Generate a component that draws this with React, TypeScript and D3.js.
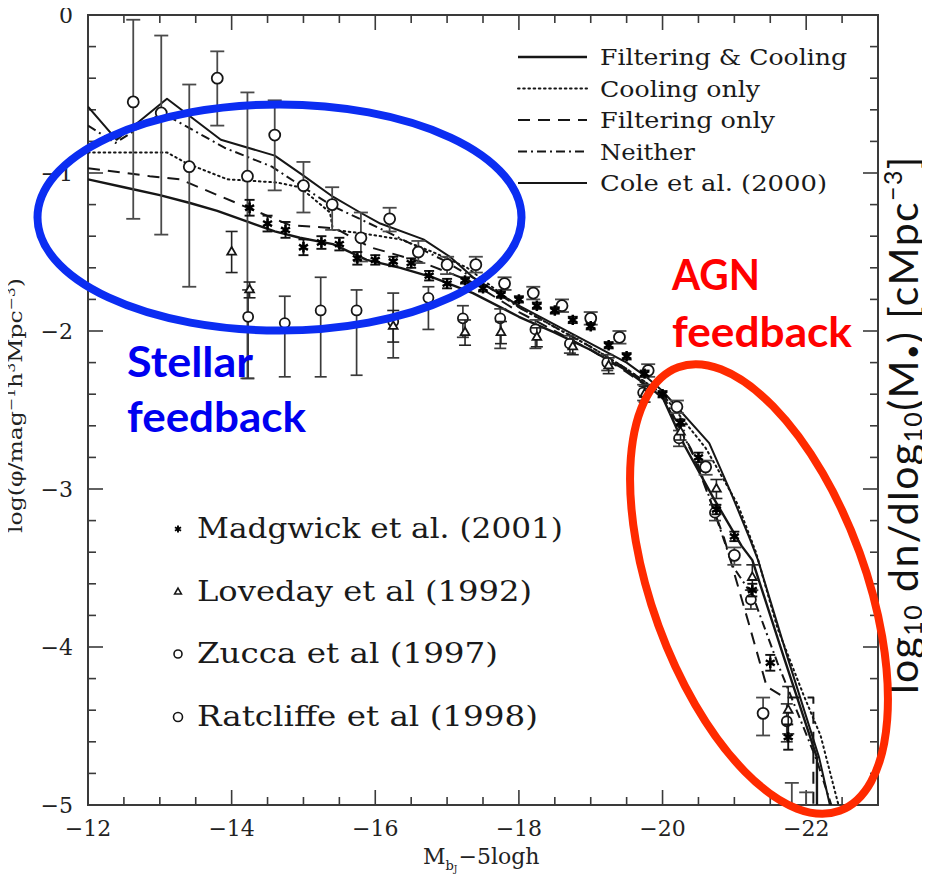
import React from "react";
import * as d3 from "d3";

const W = 930;
const H = 875;

// Model luminosity functions: [M_bJ - 5 log h, log phi]
const filteringCooling: [number, number][] = [
  [-12, -1.04], [-12.5, -1.09], [-13, -1.14], [-13.42, -1.19], [-13.8, -1.24], [-14.23, -1.31],
  [-14.6, -1.37], [-14.95, -1.41], [-15.41, -1.45], [-15.88, -1.55], [-16.35, -1.6], [-16.8, -1.66],
  [-17.36, -1.76], [-18.0, -1.91], [-18.5, -2.01], [-19.0, -2.12], [-19.5, -2.25], [-20.0, -2.42],
  [-20.3, -2.72], [-20.7, -3.05], [-21.1, -3.36], [-21.25, -3.45], [-21.7, -4.08], [-22.15, -4.7],
  [-22.15, -5.0],
];
const coolingOnly: [number, number][] = [
  [-12, -0.87], [-12.6, -0.87], [-13.1, -0.87], [-13.38, -0.94], [-13.94, -1.04], [-14.63, -1.06],
  [-14.95, -1.09], [-15.37, -1.25], [-15.41, -1.36], [-15.79, -1.38], [-16.35, -1.42], [-16.8, -1.5],
  [-17.28, -1.6], [-18.0, -1.85], [-19.0, -2.1], [-19.5, -2.24], [-20.0, -2.4], [-20.6, -2.74],
  [-21.05, -3.1], [-21.3, -3.4], [-21.6, -3.88], [-21.96, -4.3], [-22.2, -4.56], [-22.45, -5.0],
];
const filteringOnly: [number, number][] = [
  [-12, -0.97], [-12.86, -1.02], [-13.28, -1.04], [-14.12, -1.2], [-14.81, -1.33], [-15.44, -1.35],
  [-15.93, -1.47], [-16.62, -1.56], [-17.3, -1.68], [-18.0, -1.88], [-19.0, -2.12], [-19.5, -2.26],
  [-20.0, -2.42], [-20.4, -2.75], [-20.85, -3.3], [-21.2, -3.85], [-21.45, -4.25], [-21.7, -4.32],
  [-22.1, -4.32], [-22.1, -5.0],
];
const neither: [number, number][] = [
  [-12, -0.7], [-12.38, -0.81], [-13.03, -0.62], [-13.35, -0.7], [-13.9, -0.84], [-14.56, -0.96],
  [-15.2, -1.15], [-15.41, -1.21], [-16.2, -1.38], [-16.94, -1.55], [-17.5, -1.7], [-18.0, -1.85],
  [-19.0, -2.1], [-19.5, -2.24], [-20.0, -2.4], [-20.5, -2.85], [-20.98, -3.49], [-21.26, -3.68],
  [-21.6, -4.1], [-22.15, -4.72], [-22.35, -5.0],
];
const cole2000: [number, number][] = [
  [-12, -0.58], [-12.4, -0.79], [-13.1, -0.53], [-13.85, -0.79], [-14.6, -0.89], [-14.98, -1.01],
  [-15.41, -1.15], [-15.79, -1.25], [-16.07, -1.32], [-16.67, -1.42], [-17.04, -1.53], [-17.36, -1.66],
  [-18.0, -1.84], [-18.5, -1.96], [-19.0, -2.08], [-19.5, -2.2], [-19.8, -2.3], [-20.0, -2.38],
  [-20.65, -2.71], [-20.94, -3.01], [-21.22, -3.32], [-21.33, -3.45], [-21.75, -4.08], [-22.18, -4.7],
  [-22.33, -5.0],
];

// Observed luminosity functions
// [mag, log phi, symmetric error]
const madgwick: number[][] = [
  [-14.25, -1.22, 0.05], [-14.5, -1.32, 0.05], [-14.75, -1.36, 0.05], [-15.0, -1.47, 0.05],
  [-15.25, -1.44, 0.04], [-15.5, -1.45, 0.04], [-15.75, -1.54, 0.04], [-16.0, -1.55, 0.03],
  [-16.25, -1.56, 0.03], [-16.5, -1.57, 0.03], [-16.75, -1.65, 0.03], [-17.0, -1.7, 0.03],
  [-17.25, -1.68, 0.02], [-17.5, -1.73, 0.02], [-17.75, -1.77, 0.02], [-18.0, -1.8, 0.02],
  [-18.25, -1.84, 0.02], [-18.5, -1.87, 0.02], [-18.75, -1.93, 0.02], [-19.0, -1.97, 0.02],
  [-19.25, -2.09, 0.02], [-19.5, -2.16, 0.02], [-19.75, -2.27, 0.02], [-20.0, -2.4, 0.02],
  [-20.25, -2.58, 0.02], [-20.5, -2.8, 0.03], [-20.75, -3.13, 0.03], [-21.0, -3.3, 0.03],
  [-21.25, -3.64, 0.04], [-21.5, -4.1, 0.05], [-21.75, -4.57, 0.08],
];
const loveday: number[][] = [
  [-14.0, -1.5, 0.13], [-14.25, -1.74, 0.05], [-16.25, -1.97, 0.1], [-17.25, -2.01, 0.08],
  [-17.75, -2.01, 0.07], [-18.25, -2.04, 0.06], [-18.75, -2.1, 0.05], [-19.25, -2.22, 0.05],
  [-19.75, -2.4, 0.05], [-20.25, -2.64, 0.05], [-20.75, -3.0, 0.06], [-21.25, -3.56, 0.08],
  [-21.75, -4.4, 0.15],
];
// [mag, log phi, upper end, lower end]
const zucca: number[][] = [
  [-14.23, -1.91, -1.74, -2.3], [-14.74, -1.95, -1.78, -2.29], [-15.24, -1.87, -1.66, -2.29],
  [-15.74, -1.87, -1.74, -2.28], [-16.25, -1.94, -1.76, -2.17], [-16.74, -1.79, -1.72, -1.99],
  [-17.22, -1.92, -1.84, -2.04], [-17.74, -1.92, -1.86, -2.11], [-18.23, -1.99, -1.93, -2.11],
  [-18.71, -2.08, -2.03, -2.14], [-19.23, -2.2, -2.15, -2.25], [-19.73, -2.39, -2.34, -2.44],
  [-20.23, -2.68, -2.63, -2.73], [-20.73, -3.15, -3.1, -3.2], [-21.23, -3.7, -3.64, -3.76],
  [-21.73, -4.47, -4.36, -4.6],
];
const ratcliffe: number[][] = [
  [-12.63, -0.55, -0.03, -1.29], [-13.02, -0.62, -0.13, -1.39], [-13.41, -0.96, -0.44, -1.72],
  [-13.8, -0.4, -0.23, -0.7], [-14.22, -1.02, -0.49, -2.3], [-14.6, -0.76, -0.54, -1.11],
  [-15.0, -1.08, -0.93, -1.25], [-15.4, -1.2, -1.09, -1.36], [-15.8, -1.41, -1.25, -1.56],
  [-16.2, -1.29, -1.22, -1.37], [-16.6, -1.5, -1.43, -1.57], [-17.0, -1.58, -1.53, -1.64],
  [-17.4, -1.58, -1.53, -1.63], [-17.8, -1.7, -1.66, -1.74], [-18.2, -1.76, -1.72, -1.8],
  [-18.6, -1.84, -1.8, -1.88], [-19.0, -1.92, -1.88, -1.96], [-19.4, -2.04, -2.0, -2.08],
  [-19.8, -2.25, -2.21, -2.29], [-20.2, -2.48, -2.44, -2.52], [-20.6, -2.86, -2.82, -2.91],
  [-21.0, -3.42, -3.37, -3.48], [-21.4, -4.42, -4.32, -4.56], [-21.8, -5.4, -4.86, -6.0],
  [-22.0, -5.6, -4.92, -6.0],
];

const modelLabels = ["Filtering & Cooling", "Cooling only", "Filtering only", "Neither", "Cole et al. (2000)"];
const dataLabels = ["Madgwick et al. (2001)", "Loveday et al (1992)", "Zucca et al (1997)", "Ratcliffe et al (1998)"];
const xTicks = [-12, -14, -16, -18, -20, -22];
const yTicks = [0, -1, -2, -3, -4, -5];

const SERIF = "'DejaVu Serif', 'Liberation Serif', serif";
const SANS = "Lato, 'Open Sans', 'Noto Sans', sans-serif";
const INK = "#161616";

const x = d3.scaleLinear().domain([-12, -23]).range([88, 878]);
const y = d3.scaleLinear().domain([0, -5]).range([15, 805]);
const line = d3.line<[number, number]>().x((d) => x(d[0])).y((d) => y(d[1]));

const DOT = "1.6 3.6";
const modelStyles = [
  { data: filteringCooling, dash: "none", width: 2.4 },
  { data: coolingOnly, dash: DOT, width: 2 },
  { data: filteringOnly, dash: "12 8", width: 2 },
  { data: neither, dash: "9 4 2 4", width: 2 },
  { data: cole2000, dash: "none", width: 2 },
];

const asterisk = d3.symbol(d3.symbolAsterisk, 75)()!;
const asteriskSmall = d3.symbol(d3.symbolAsterisk, 34)()!;
const triangle = d3.symbol(d3.symbolTriangle2, 55)()!;
const triangleSmall = d3.symbol(d3.symbolTriangle2, 32)()!;

const fmt = (v: number) => (v < 0 ? "\u2212" + Math.abs(v) : String(v));

function ErrorBar({ px, top, bottom, cap, color, w }: { px: number; top: number; bottom: number; cap: number; color: string; w: number }) {
  return (
    <g stroke={color} strokeWidth={w} fill="none">
      <line x1={px} x2={px} y1={top} y2={bottom} />
      <line x1={px - cap} x2={px + cap} y1={top} y2={top} />
      <line x1={px - cap} x2={px + cap} y1={bottom} y2={bottom} />
    </g>
  );
}

export default function App() {
  const [x0, x1] = x.range();
  const [y0, y1] = y.range();
  const xMinor = d3.range(-12, -23.01, -0.5);
  const yMinor = d3.range(0, -5.01, -0.2);
  const major = 15;
  const minor = 8;

  return (
    <svg width={W} height={H} viewBox={`0 0 ${W} ${H}`} style={{ display: "block", background: "#fff", marginLeft: -8, marginTop: -8 }}>
      <defs>
        <clipPath id="plot">
          <rect x={x0} y={y0} width={x1 - x0} height={y1 - y0} />
        </clipPath>
      </defs>
      <rect width={W} height={H} fill="#fff" />

      {/* frame and ticks */}
      <rect x={x0} y={y0} width={x1 - x0} height={y1 - y0} fill="none" stroke="#3a3a3a" strokeWidth={2} />
      <g stroke="#3a3a3a" strokeWidth={1.6}>
        {xMinor.map((v, i) => {
          const isMajor = Math.abs(v % 2) < 1e-6;
          const l = isMajor ? major : minor;
          return (
            <g key={"xm" + i}>
              <line x1={x(v)} x2={x(v)} y1={y1} y2={y1 - l} />
              <line x1={x(v)} x2={x(v)} y1={y0} y2={y0 + l} />
            </g>
          );
        })}
        {yMinor.map((v, i) => {
          const isMajor = Math.abs(v - Math.round(v)) < 1e-6;
          const l = isMajor ? major : minor;
          return (
            <g key={"ym" + i}>
              <line x1={x0} x2={x0 + l} y1={y(v)} y2={y(v)} />
              <line x1={x1} x2={x1 - l} y1={y(v)} y2={y(v)} />
            </g>
          );
        })}
      </g>

      {/* tick labels */}
      <g fontFamily={SERIF} fontSize={22} fill="#222">
        {xTicks.map((v) => (
          <text key={"xl" + v} x={x(v)} y={y1 + 31} textAnchor="middle">{fmt(v)}</text>
        ))}
        {yTicks.map((v) => (
          <text key={"yl" + v} x={x0 - 15} y={y(v) + 8} textAnchor="end">{fmt(v)}</text>
        ))}
      </g>

      {/* axis titles */}
      <text x={423} y={864} fontFamily={SERIF} fontSize={22} fill="#222">
        M<tspan fontSize={13} dy={6}>b</tspan><tspan fontSize={9} dy={2}>J</tspan>
        <tspan dy={-8} fontSize={22} dx={1}>{"\u22125logh"}</tspan>
      </text>
      <text transform="translate(22,533) rotate(-90)" fontFamily={SERIF} fontSize={18} fill="#222"
        textLength={255} lengthAdjust="spacingAndGlyphs">
        {"log(\u03c6/mag"}<tspan fontSize={12} dy={-7}>{"\u22121"}</tspan>
        <tspan dy={7}>h</tspan><tspan fontSize={12} dy={-7}>3</tspan>
        <tspan dy={7}>Mpc</tspan><tspan fontSize={12} dy={-7}>{"\u22123"}</tspan>
        <tspan dy={7}>)</tspan>
      </text>
      <text transform="translate(918,694) rotate(-90)" fontFamily={SANS} fontSize={41} fill="#111" letterSpacing={1.4}>
        log<tspan fontSize={25} dy={4}>10</tspan>
        <tspan dy={-4}>{" dn/dlog"}</tspan><tspan fontSize={25} dy={4}>10</tspan>
        <tspan dy={-4}>(M</tspan><tspan fontSize={25} dy={3}>{"\u2022"}</tspan>
        <tspan dy={-3}>{")  [cMpc"}</tspan><tspan fontSize={25} dy={-16}>{"\u22123"}</tspan>
        <tspan dy={16}>]</tspan>
      </text>

      {/* model curves */}
      <g clipPath="url(#plot)" fill="none" stroke={INK} strokeLinejoin="round">
        {modelStyles.map((m, i) => (
          <path key={"m" + i} d={line(m.data)!} strokeWidth={m.width} strokeDasharray={m.dash}
            strokeLinecap={m.dash === DOT ? "round" : "butt"} />
        ))}
      </g>

      {/* observations */}
      <g clipPath="url(#plot)">
        {ratcliffe.map((d, i) => (
          <g key={"r" + i}>
            <ErrorBar px={x(d[0])} top={y(d[2])} bottom={y(d[3])} cap={7} color="#4a4a4a" w={1.8} />
            <circle cx={x(d[0])} cy={y(d[1])} r={5.5} fill="#fff" stroke={INK} strokeWidth={1.8} />
          </g>
        ))}
        {zucca.map((d, i) => (
          <g key={"z" + i}>
            <ErrorBar px={x(d[0])} top={y(d[2])} bottom={y(d[3])} cap={6} color="#3a3a3a" w={1.7} />
            <circle cx={x(d[0])} cy={y(d[1])} r={5} fill="#fff" stroke={INK} strokeWidth={1.8} />
          </g>
        ))}
        {loveday.map((d, i) => (
          <g key={"l" + i}>
            <ErrorBar px={x(d[0])} top={y(d[1] + d[2])} bottom={y(d[1] - d[2])} cap={6} color="#222" w={1.6} />
            <path d={triangle} transform={`translate(${x(d[0])},${y(d[1])})`} fill="#fff" stroke={INK} strokeWidth={1.8} />
          </g>
        ))}
        {madgwick.map((d, i) => (
          <g key={"g" + i}>
            <ErrorBar px={x(d[0])} top={y(d[1] + d[2])} bottom={y(d[1] - d[2])} cap={5} color="#111" w={1.9} />
            <path d={asterisk} transform={`translate(${x(d[0])},${y(d[1])})`} fill="none" stroke="#000" strokeWidth={2.5} />
          </g>
        ))}
      </g>

      {/* model legend */}
      <g>
        {modelLabels.map((lab, i) => {
          const ly = 57 + i * 31.5;
          const st = modelStyles[i];
          return (
            <g key={"ml" + i}>
              <line x1={518} x2={587} y1={ly} y2={ly} stroke={INK} strokeWidth={st.width}
                strokeDasharray={st.dash} strokeLinecap={st.dash === DOT ? "round" : "butt"} />
              <text x={600} y={ly + 8} fontFamily={SERIF} fontSize={22} fill="#1a1a1a"
                textLength={[247, 160, 175, 95, 227][i]} lengthAdjust="spacingAndGlyphs">{lab}</text>
            </g>
          );
        })}
      </g>

      {/* data legend */}
      <g>
        {dataLabels.map((lab, i) => {
          const ly = [529, 592, 654, 717][i];
          const mx = 178;
          return (
            <g key={"dl" + i}>
              {i === 0 && <path d={asteriskSmall} transform={`translate(${mx},${ly})`} fill="none" stroke="#000" strokeWidth={1.9} />}
              {i === 1 && <path d={triangleSmall} transform={`translate(${mx},${ly})`} fill="#fff" stroke={INK} strokeWidth={1.6} />}
              {i === 2 && <circle cx={mx} cy={ly} r={4} fill="#fff" stroke={INK} strokeWidth={1.6} />}
              {i === 3 && <circle cx={mx} cy={ly} r={4.5} fill="#fff" stroke={INK} strokeWidth={1.6} />}
              <text x={197} y={ly + 9} fontFamily={SERIF} fontSize={27} fill="#1a1a1a"
                textLength={[366, 335, 301, 341][i]} lengthAdjust="spacingAndGlyphs">{lab}</text>
            </g>
          );
        })}
      </g>

      {/* feedback annotations */}
      <ellipse cx={279.5} cy={217.5} rx={242} ry={113} fill="none" stroke="#0b2df2" strokeWidth={8} />
      <ellipse cx={759} cy={589} rx={107} ry={236} transform="rotate(-20,759,589)" fill="none" stroke="#ff2a00" strokeWidth={8} />
      <g fontFamily={SANS} fontWeight={700} fontSize={42}>
        <text x={127} y={377} fill="#0000f0" textLength={126} lengthAdjust="spacingAndGlyphs">Stellar</text>
        <text x={127} y={432} fill="#0000f0" textLength={179} lengthAdjust="spacingAndGlyphs">feedback</text>
        <text x={672} y={290} fill="#ff0000" textLength={88} lengthAdjust="spacingAndGlyphs">AGN</text>
        <text x={672} y={347} fill="#ff0000" textLength={180} lengthAdjust="spacingAndGlyphs">feedback</text>
      </g>
    </svg>
  );
}
